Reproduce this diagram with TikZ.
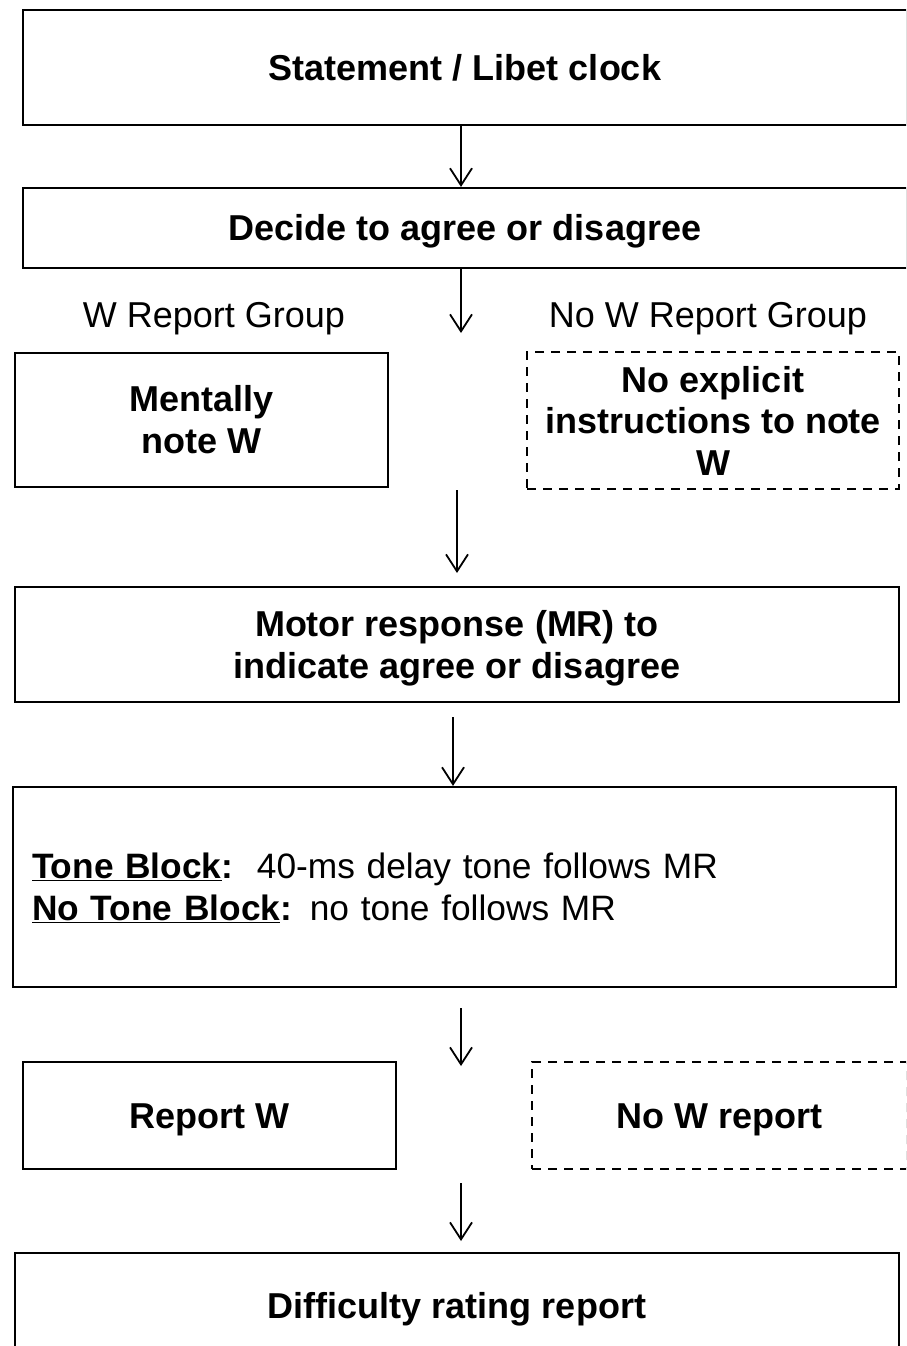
\documentclass[tikz,border=0pt]{standalone}
\usepackage{fontspec}
\setmainfont{Liberation Sans}
\usetikzlibrary{arrows.meta}
\tikzset{
  box/.style={draw=black, line width=2.2pt, rectangle, inner sep=0pt, align=center, text height=25.8pt, text depth=0pt, font=\fontsize{36}{41.5}\selectfont\bfseries},
  dbox/.style={box, line width=1.8pt, dash pattern=on 9pt off 7pt},
  grp/.style={inner sep=0pt, text height=25.8pt, text depth=0pt, font=\fontsize{36}{41.5}\selectfont},
  arr/.style={line width=1.8pt, -{Straight Barb[length=17pt,width=22pt,line width=1.8pt]}}
}
\begin{document}
\begin{tikzpicture}[x=1pt,y=-1pt]
\useasboundingbox (0,0) rectangle (906,1346);
\clip (0,0) rectangle (906,1346);
\fill[white] (0,0) rectangle (906,1346);

\node[box, minimum width=884, minimum height=115] (b1) at (465,67.5) {Statement / Libet clock};
\node[box, minimum width=884, minimum height=80] (b2) at (465,228) {Decide to agree or disagree};
\node[grp] (g1) at (214,315) {W Report Group};
\node[grp] (g2) at (708,315) {No W Report Group};
\node[box, text height=66.3pt, minimum width=373, minimum height=134] (b3) at (201.5,420) {Mentally\\note W};
\node[dbox, text height=109.3pt, minimum width=372, minimum height=137] (b4) at (713,420.5) {No explicit\\instructions to note\\W};
\node[box, text height=67.3pt, minimum width=884, minimum height=115] (b5) at (457,644.5) {Motor response (MR) to\\indicate agree or disagree};
\node[box, text width=845, inner xsep=19pt, minimum height=200, align=left, text height=25.3pt, text depth=42pt, font=\fontsize{35.3}{42}\selectfont] (b6) at (454.5,887)
  {\textbf{\underline{Tone Block}:}\ \ 40-ms delay tone follows MR\\
   \textbf{\underline{No Tone Block}:} no tone follows MR};
\node[box, minimum width=373, minimum height=107] (b7) at (209.5,1115.5) {Report W};
\node[dbox, minimum width=375, minimum height=107] (b8) at (719.5,1115.5) {No W report};
\node[box, minimum width=884, minimum height=106] (b9) at (457,1306) {Difficulty rating report};

\coordinate (e2) at (461,333);
\coordinate (s3) at (457,490);
\coordinate (e3) at (457,573);
\coordinate (s4) at (453,717);
\coordinate (s5) at (461,1008);
\coordinate (e5) at (461,1066);
\coordinate (s6) at (461,1183);
\coordinate (e6) at (461,1241);

\draw[arr] (b1.south -| e2) -- (b2.north -| e2);
\draw[arr] (b2.south -| e2) -- (e2);
\draw[arr] (s3) -- (e3);
\draw[arr] (s4) -- (b6.north -| s4);
\draw[arr] (s5) -- (e5);
\draw[arr] (s6) -- (e6);
\end{tikzpicture}
\end{document}
